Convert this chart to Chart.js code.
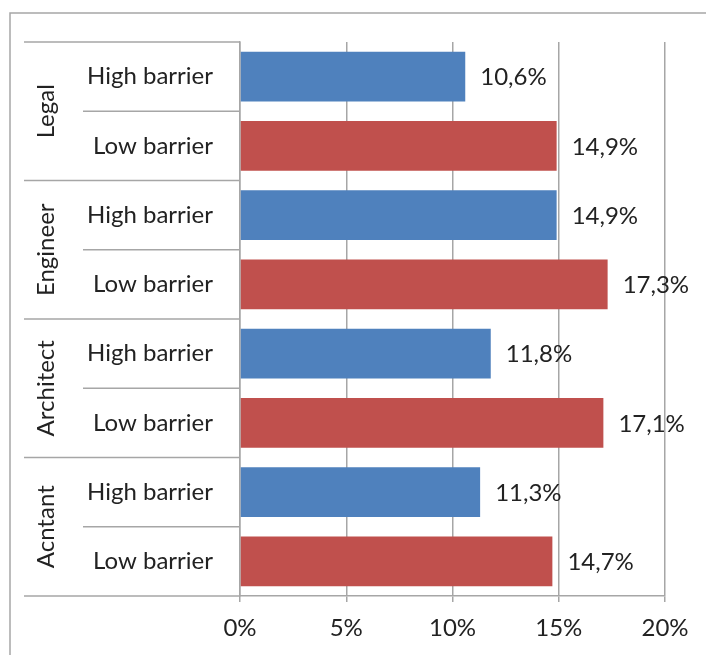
<!DOCTYPE html>
<html>
<head>
<meta charset="utf-8">
<script src="https://cdn.jsdelivr.net/npm/chart.js@4.4.1/dist/chart.umd.min.js"></script>
<style>
  html, body { margin: 0; padding: 0; background: #fff; }
  #wrap { width: 706px; height: 655px; position: relative; }
</style>
</head>
<body>
<div id="wrap"><canvas id="myChart" width="706" height="655"></canvas></div>
<script>
// data
let groups = ['Legal', 'Engineer', 'Architect', 'Acntant'];
let barriers = ['High barrier', 'Low barrier'];
let values = [10.6, 14.9, 14.9, 17.3, 11.8, 17.1, 11.3, 14.7];
let tickValues = [0, 5, 10, 15, 20];

let blue = '#4F81BD';
let red = '#C0504D';
let lineGray = '#a6a6a6';
let fontFam = 'Lato, "Open Sans", sans-serif';
let fontSize = 24;

let labels = [];
groups.forEach(function () { barriers.forEach(function (b) { labels.push(b); }); });
let colors = labels.map(function (l) { return l === 'High barrier' ? blue : red; });

// frame, group axis lines, rotated group names, value labels
let extras = {
    id: 'extras',
    beforeDraw: function (chart) {
        let c = chart.ctx;
        c.save();
        c.strokeStyle = lineGray;
        c.lineWidth = 1.5;
        c.beginPath();
        c.moveTo(10, 700);
        c.lineTo(10, 13);
        c.lineTo(720, 13);
        c.stroke();
        c.restore();
    },
    afterDraw: function (chart) {
        let c = chart.ctx;
        let area = chart.chartArea;
        let step = (area.bottom - area.top) / labels.length;
        c.save();
        c.strokeStyle = lineGray;
        c.lineWidth = 1.5;
        // boundary lines between rows
        for (let i = 0; i <= labels.length; i++) {
            let py = area.top + i * step;
            c.beginPath();
            c.moveTo(i % 2 === 0 ? 24 : 83, py);
            c.lineTo(area.left, py);
            c.stroke();
        }
        // group names, rotated
        c.fillStyle = '#222';
        c.font = fontSize + 'px ' + fontFam;
        c.textAlign = 'center';
        c.textBaseline = 'middle';
        groups.forEach(function (g, gi) {
            let cy = area.top + (gi * 2 + 1) * step;
            c.save();
            c.translate(46, cy);
            c.rotate(-Math.PI / 2);
            c.fillText(g, 0, 0);
            c.restore();
        });
        // value labels
        let meta = chart.getDatasetMeta(0);
        c.textAlign = 'left';
        meta.data.forEach(function (bar, i) {
            let txt = values[i].toFixed(1).replace('.', ',') + '%';
            c.fillText(txt, bar.x + 15, bar.y + 1);
        });
        c.restore();
    }
};

let ctx = document.getElementById('myChart').getContext('2d');

let barrierChart = new Chart(ctx, {
    type: 'bar',
    data: {
        labels: labels,
        datasets: [{
            data: values,
            backgroundColor: colors,
            borderWidth: 0,
            barPercentage: 0.72,
            categoryPercentage: 1
        }]
    },
    options: {
        indexAxis: 'y',
        responsive: false,
        animation: false,
        layout: { padding: { top: 42, right: 41, bottom: 0, left: 0 } },
        plugins: {
            legend: { display: false },
            tooltip: { enabled: false }
        },
        scales: {
            x: {
                min: 0,
                max: 20,
                afterBuildTicks: function (scale) {
                    scale.ticks = tickValues.map(function (v) { return { value: v }; });
                },
                afterFit: function (scale) { scale.height = 59; },
                grid: { color: lineGray, lineWidth: 1.5, tickLength: 6 },
                border: { color: lineGray, width: 1.5 },
                ticks: {
                    padding: 12,
                    color: '#222',
                    font: { size: fontSize, family: fontFam },
                    maxRotation: 0,
                    callback: function (v) { return v + '%'; }
                }
            },
            y: {
                afterFit: function (scale) { scale.width = 240; },
                grid: { display: false },
                border: { color: lineGray, width: 1.5 },
                ticks: {
                    padding: 19,
                    color: '#222',
                    font: { size: fontSize, family: fontFam }
                }
            }
        }
    },
    plugins: [extras]
});
</script>
</body>
</html>
